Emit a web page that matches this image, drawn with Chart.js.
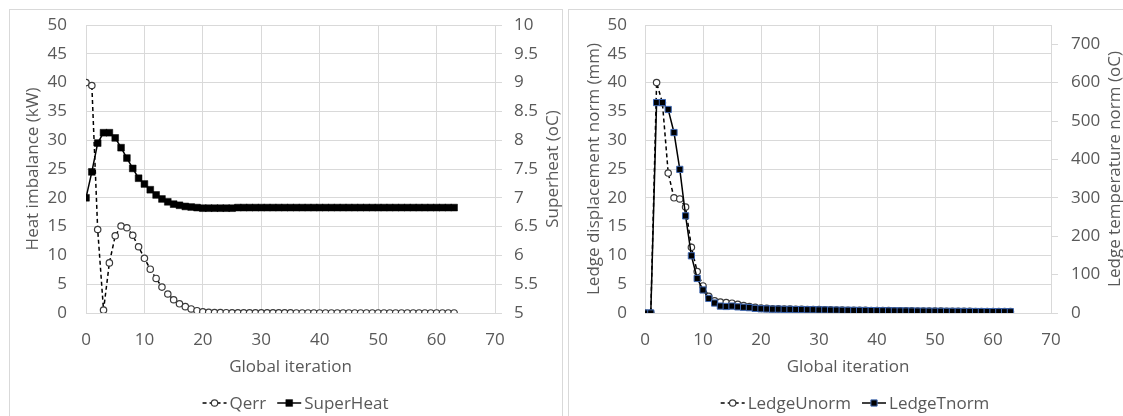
<!DOCTYPE html>
<html><head><meta charset="utf-8">
<script src="https://cdn.jsdelivr.net/npm/chart.js@4.4.1/dist/chart.umd.min.js"></script>
<style>
html,body{margin:0;padding:0;background:#fff;width:1123px;height:416px;overflow:hidden;}
.box{position:absolute;top:9px;border:1px solid #D9D9D9;height:420px;}
#b1{left:9px;width:552px;}
#b2{left:568px;width:560px;}
canvas{position:absolute;left:0;top:0;}
</style></head><body>
<div class="box" id="b1"><canvas id="c1" width="552" height="406"></canvas></div>
<div class="box" id="b2"><canvas id="c2" width="554" height="406"></canvas></div>
<script>
// ---------- DATA ----------
const iterations = [0,1,2,3,4,5,6,7,8,9,10,11,12,13,14,15,16,17,18,19,20,21,22,23,24,25,26,27,28,29,30,31,32,33,34,35,36,37,38,39,40,41,42,43,44,45,46,47,48,49,50,51,52,53,54,55,56,57,58,59,60,61,62,63];
const xTicks = [0,10,20,30,40,50,60,70];
const normTicks = [0,5,10,15,20,25,30,35,40,45,50];
const superheatTicks = [5,5.5,6,6.5,7,7.5,8,8.5,9,9.5,10];
const ledgeTempTicks = [0,100,200,300,400,500,600,700];

// left chart: heat imbalance (kW) and superheat (oC)
const qerr = [40.0,39.5,14.5,0.5,8.7,13.4,15.1,14.8,13.5,11.5,9.5,7.6,6.0,4.5,3.3,2.3,1.6,1.1,0.7,0.4,0.2,0.1,
  0.08,0.06,0.05,0.04,0.04,0.03,0.03,0.03,0.02,0.02,0.02,0.02,0.02,0.02,
  0.01,0.01,0.01,0.01,0.01,0.01,0.01,0.01,0.01,0.01,0.01,0.01,0.01,0.01,0.01,0.01,0.01,0.01,0.01,0.01,0.01,0.01,0.01,0.01,0.01,0.01,0.01,0.01];
const superHeat = [7.00,7.45,7.95,8.13,8.13,8.04,7.87,7.69,7.51,7.34,7.24,7.14,7.05,6.98,6.93,6.89,6.87,6.85,6.84,6.83,6.82,6.82,6.82,6.82,6.82,6.82,6.83,
  6.83,6.83,6.83,6.83,6.83,6.83,6.83,6.83,6.83,6.83,6.83,6.83,6.83,6.83,6.83,6.83,6.83,6.83,6.83,6.83,6.83,6.83,6.83,6.83,6.83,6.83,6.83,6.83,6.83,6.83,6.83,6.83,6.83,6.83,6.83,6.83,6.83];

// right chart: ledge displacement norm (mm) and ledge temperature norm (oC)
const ledgeUnorm = [0,0,40.0,36.5,24.3,20.0,19.8,18.4,11.4,7.2,4.7,2.9,2.1,1.9,1.8,1.7,1.5,1.3,1.1,1.0,0.85,0.8,0.75,0.72,0.7,0.68,0.66,0.64,0.62,0.6,
  0.58,0.56,0.54,0.52,0.5,0.49,0.48,0.46,0.45,0.44,0.43,0.42,0.41,0.4,0.39,0.38,0.37,0.36,0.35,0.34,0.33,0.32,0.31,0.3,0.3,0.29,0.28,0.27,0.27,0.26,0.25,0.25,0.24,0.24];
const ledgeTnorm = [0,0,548,548,530,470,374,253,149,90,60,38,26,18,17,18,16,15,14,12,11,10.5,10,10,9.5,9.5,9,9,8.5,8.5,
  8,8,7.5,7.5,7,7,6.8,6.6,6.4,6.2,6,5.8,5.6,5.5,5.4,5.2,5,4.9,4.8,4.6,4.5,4.4,4.3,4.2,4.1,4,3.9,3.8,3.7,3.6,3.5,3.4,3.3,3.2];

// ---------- STYLE ----------
const FAM = "'Open Sans', sans-serif";
const FS = 17;
const TXT = '#595959';
const GRID = '#D9D9D9';

function pts(ys){ return iterations.map((x,i)=>({x:x, y:ys[i]})); }
function fmt(v){ return String(+Number(v).toFixed(2)); }

const rightTitle = {
  id:'rightTitle',
  afterDraw(chart, args, o){
    const {ctx, chartArea} = chart;
    ctx.save();
    ctx.fillStyle = TXT;
    ctx.font = FS + 'px ' + FAM;
    ctx.translate(o.x, (chartArea.top + chartArea.bottom)/2);
    ctx.rotate(-Math.PI/2);
    ctx.textAlign = 'center';
    ctx.textBaseline = 'middle';
    ctx.fillText(o.text, 0, 0);
    ctx.restore();
  }
};

function marker(ctx, ds, x, y){
  ctx.save();
  ctx.fillStyle = ds.pointBackgroundColor;
  ctx.strokeStyle = ds.pointBorderColor;
  ctx.lineWidth = ds.pointBorderWidth;
  ctx.beginPath();
  if (ds.pointStyle === 'rect') {
    const s = Math.SQRT1_2 * ds.pointRadius;
    ctx.rect(x - s, y - s, 2*s, 2*s);
  } else {
    ctx.arc(x, y, ds.pointRadius, 0, Math.PI*2);
  }
  ctx.fill();
  if (ds.pointBorderWidth > 0) ctx.stroke();
  ctx.restore();
}

const lineLegend = {
  id:'lineLegend',
  afterDraw(chart, args, o){
    const {ctx, chartArea} = chart;
    ctx.save();
    ctx.font = FS + 'px ' + FAM;
    const symW = 24, gapText = 3, gapItem = 11;
    const items = chart.data.datasets.map(ds => ({ds, w: symW + gapText + ctx.measureText(ds.label).width}));
    const total = items.reduce((s,it)=>s+it.w,0) + gapItem*(items.length-1);
    let x = (chartArea.left + chartArea.right)/2 + o.shift - total/2;
    const y = o.y;
    for (const it of items){
      const ds = it.ds;
      ctx.save();
      ctx.strokeStyle = ds.borderColor;
      ctx.lineWidth = ds.borderWidth;
      ctx.setLineDash(ds.borderDash || []);
      ctx.beginPath(); ctx.moveTo(x, y); ctx.lineTo(x + symW, y); ctx.stroke();
      ctx.restore();
      marker(ctx, ds, x + symW/2, y);
      ctx.fillStyle = TXT;
      ctx.textAlign = 'left';
      ctx.textBaseline = 'middle';
      ctx.fillText(ds.label, x + symW + gapText, y + 1);
      x += it.w + gapItem;
    }
    ctx.restore();
  }
};

function xScale(){
  return {
    type:'linear', min:0, max:70,
    afterBuildTicks: s => { s.ticks = xTicks.map(v=>({value:v})); },
    ticks:{ color:TXT, font:{family:FAM,size:FS}, padding:17, maxRotation:0, autoSkip:false },
    grid:{ color:GRID, lineWidth:1, drawTicks:false },
    border:{ color:GRID },
    title:{ display:true, text:'Global iteration', color:TXT, font:{family:FAM,size:FS}, padding:{top:0,bottom:6} },
    afterFit: s => { s.height = 70; }
  };
}

function yLeft(title, tpad, titlePad){
  return {
    type:'linear', position:'left', min:0, max:50,
    afterBuildTicks: s => { s.ticks = normTicks.map(v=>({value:v})); },
    ticks:{ color:TXT, font:{family:FAM,size:FS}, padding:tpad, callback: fmt, autoSkip:false },
    grid:{ color:GRID, lineWidth:1, drawTicks:false },
    border:{ color:GRID },
    title:{ display:true, text:title, color:TXT, font:{family:FAM,size:FS}, padding:{top:titlePad,bottom:0} },
    afterFit: s => { s.width = 76; s.paddingTop = 0; s.paddingBottom = 0; }
  };
}

function yRight(min, max, tickVals, tpad, width){
  return {
    type:'linear', position:'right', min:min, max:max,
    afterBuildTicks: s => { s.ticks = tickVals.map(v=>({value:v})); },
    ticks:{ color:TXT, font:{family:FAM,size:FS}, padding:tpad, callback: fmt, autoSkip:false },
    grid:{ drawOnChartArea:false, drawTicks:true, tickLength:7, color:GRID, lineWidth:1 },
    border:{ color:GRID },
    afterFit: s => { s.width = width; s.paddingTop = 0; s.paddingBottom = 0; }
  };
}

const common = {
  responsive:false, animation:false, events:[],
  layout:{ padding:{ top:15, bottom:33, left:0, right:0 } }
};

new Chart(document.getElementById('c1'), {
  type:'scatter',
  data:{ datasets:[
    { label:'Qerr', data:pts(qerr), yAxisID:'y', showLine:true, order:2,
      borderColor:'#000', borderWidth:1.5, borderDash:[4,3],
      pointStyle:'circle', pointRadius:3.2, pointBorderWidth:1.2, pointBorderColor:'#3a3a3a', pointBackgroundColor:'#fff' },
    { label:'SuperHeat', data:pts(superHeat), yAxisID:'y2', showLine:true, order:1,
      borderColor:'#000', borderWidth:1.5,
      pointStyle:'rect', pointRadius:4.8, pointBorderWidth:0.5, pointBorderColor:'#000', pointBackgroundColor:'#000' }
  ]},
  options: Object.assign({}, common, {
    scales:{ x:xScale(), y:yLeft('Heat imbalance (kW)', 19, 13), y2:yRight(5, 10, superheatTicks, 12, 67) },
    plugins:{ legend:{display:false}, tooltip:{enabled:false},
      rightTitle:{ x:543, text:'Superheat (oC)' }, lineLegend:{ y:393, shift:5 } }
  }),
  plugins:[rightTitle, lineLegend]
});

new Chart(document.getElementById('c2'), {
  type:'scatter',
  data:{ datasets:[
    { label:'LedgeUnorm', data:pts(ledgeUnorm), yAxisID:'y', showLine:true, order:2,
      borderColor:'#000', borderWidth:1.5, borderDash:[4,3],
      pointStyle:'circle', pointRadius:3.2, pointBorderWidth:1.2, pointBorderColor:'#3a3a3a', pointBackgroundColor:'#fff' },
    { label:'LedgeTnorm', data:pts(ledgeTnorm), yAxisID:'y2', showLine:true, order:1,
      borderColor:'#000', borderWidth:1.5,
      pointStyle:'rect', pointRadius:4.4, pointBorderWidth:1, pointBorderColor:'#3E67B1', pointBackgroundColor:'#000' }
  ]},
  options: Object.assign({}, common, {
    scales:{ x:xScale(), y:yLeft('Ledge displacement norm (mm)', 18, 15), y2:yRight(0, 750, ledgeTempTicks, 13, 72) },
    plugins:{ legend:{display:false}, tooltip:{enabled:false},
      rightTitle:{ x:546, text:'Ledge temperature norm (oC)' }, lineLegend:{ y:393, shift:7 } }
  }),
  plugins:[rightTitle, lineLegend]
});
</script>
</body></html>
